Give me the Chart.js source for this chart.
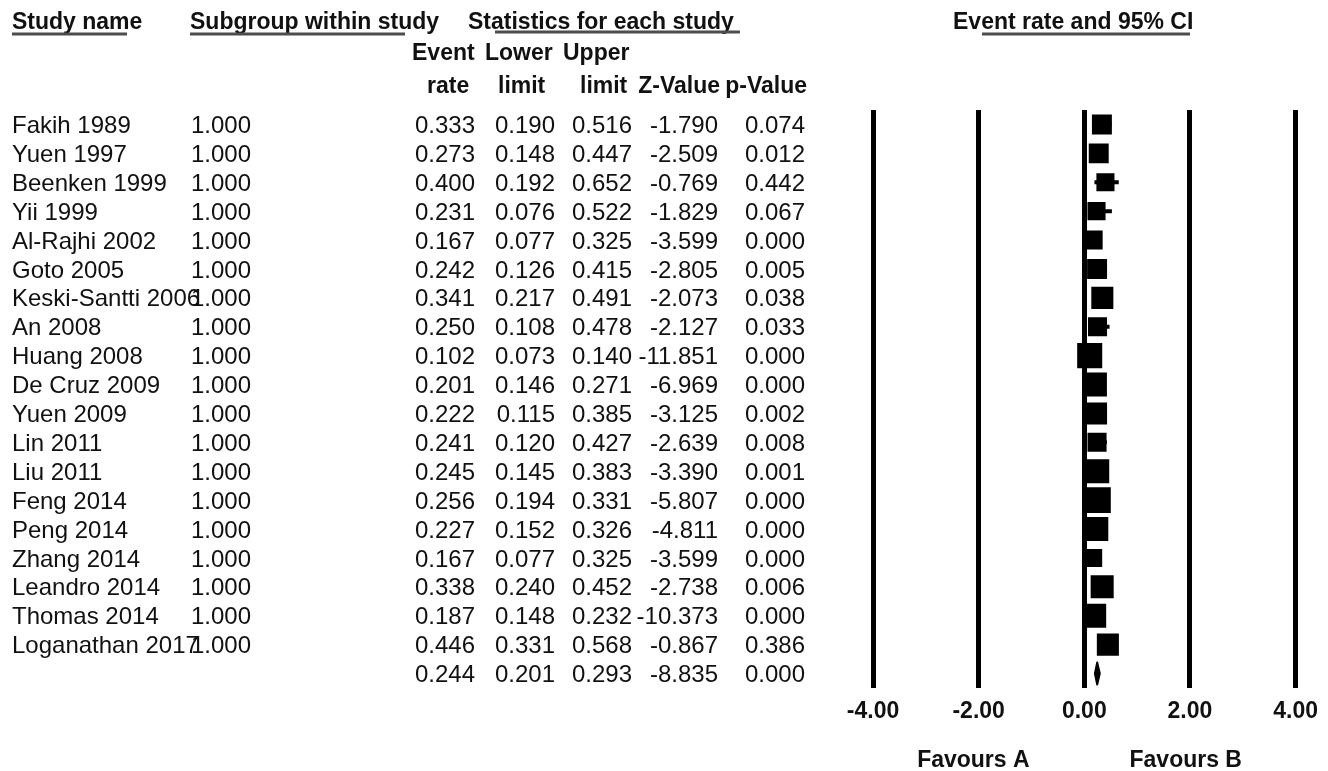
<!DOCTYPE html>
<html lang="en">
<head>
<meta charset="UTF-8">
<title>Event rate and 95% CI</title>
<script src="https://cdn.jsdelivr.net/npm/chart.js@4.4.1/dist/chart.umd.min.js"></script>
<style>
  html, body { margin: 0; padding: 0; background: #fff; }
  #wrap { width: 1328px; height: 771px; position: relative; }
</style>
</head>
<body>
<div id="wrap"><canvas id="chart"></canvas></div>
<script>
// study data
const studies = ['Fakih 1989', 'Yuen 1997', 'Beenken 1999', 'Yii 1999', 'Al-Rajhi 2002', 'Goto 2005',
  'Keski-Santti 2006', 'An 2008', 'Huang 2008', 'De Cruz 2009', 'Yuen 2009', 'Lin 2011', 'Liu 2011',
  'Feng 2014', 'Peng 2014', 'Zhang 2014', 'Leandro 2014', 'Thomas 2014', 'Loganathan 2017'];
const subgroups = ['1.000', '1.000', '1.000', '1.000', '1.000', '1.000', '1.000', '1.000', '1.000', '1.000',
  '1.000', '1.000', '1.000', '1.000', '1.000', '1.000', '1.000', '1.000', '1.000'];
const eventRate = [0.333, 0.273, 0.400, 0.231, 0.167, 0.242, 0.341, 0.250, 0.102, 0.201,
  0.222, 0.241, 0.245, 0.256, 0.227, 0.167, 0.338, 0.187, 0.446];
const lowerLimit = [0.190, 0.148, 0.192, 0.076, 0.077, 0.126, 0.217, 0.108, 0.073, 0.146,
  0.115, 0.120, 0.145, 0.194, 0.152, 0.077, 0.240, 0.148, 0.331];
const upperLimit = [0.516, 0.447, 0.652, 0.522, 0.325, 0.415, 0.491, 0.478, 0.140, 0.271,
  0.385, 0.427, 0.383, 0.331, 0.326, 0.325, 0.452, 0.232, 0.568];
const zValue = [-1.790, -2.509, -0.769, -1.829, -3.599, -2.805, -2.073, -2.127, -11.851, -6.969,
  -3.125, -2.639, -3.390, -5.807, -4.811, -3.599, -2.738, -10.373, -0.867];
const pValue = [0.074, 0.012, 0.442, 0.067, 0.000, 0.005, 0.038, 0.033, 0.000, 0.000,
  0.002, 0.008, 0.001, 0.000, 0.000, 0.000, 0.006, 0.000, 0.386];
// relative weights (%)
const weights = [4.5, 4.5, 3.7, 3.7, 4.1, 4.5, 5.5, 4.1, 7.1, 6.5,
  5.5, 4.1, 6.5, 7.6, 6.5, 3.7, 6.0, 6.5, 5.5];
// pooled estimate
const summary = { rate: 0.244, lower: 0.201, upper: 0.293, z: -8.835, p: 0.000 };
const xTicks = [-4, -2, 0, 2, 4];

const FONT = '"Liberation Sans", Arial, Helvetica, sans-serif';
const summaryRow = studies.length;

// boxes and whiskers
const boxes = eventRate.map((v, i) => ({ x: v, y: i }));
const whiskers = [];
for (let i = 0; i < studies.length; i++) {
  whiskers.push({ x: lowerLimit[i], y: i }, { x: upperLimit[i], y: i }, { x: null, y: null });
}

const tablePlugin = {
  id: 'forestTable',
  afterDatasetsDraw(chart) {
    const ctx = chart.ctx, xs = chart.scales.x, ys = chart.scales.y;
    // summary diamond
    const cy = ys.getPixelForValue(summaryRow);
    ctx.save();
    ctx.fillStyle = '#000';
    ctx.strokeStyle = '#000';
    ctx.lineWidth = 2;
    ctx.lineJoin = 'round';
    ctx.beginPath();
    ctx.moveTo(xs.getPixelForValue(summary.lower), cy);
    ctx.lineTo(xs.getPixelForValue(summary.rate), cy - 11);
    ctx.lineTo(xs.getPixelForValue(summary.upper), cy);
    ctx.lineTo(xs.getPixelForValue(summary.rate), cy + 11);
    ctx.closePath();
    ctx.fill();
    ctx.stroke();
    ctx.restore();
  },
  afterDraw(chart) {
    const ctx = chart.ctx, xs = chart.scales.x, ys = chart.scales.y;
    ctx.save();
    ctx.fillStyle = '#111';
    ctx.textBaseline = 'middle';

    // column headers
    ctx.font = 'bold 23px ' + FONT;
    ctx.textAlign = 'left';
    ctx.fillText('Study name', 12, 23);
    ctx.fillText('Subgroup within study', 190, 23);
    ctx.fillText('Statistics for each study', 468, 23);
    ctx.fillText('Event rate and 95% CI', 953, 23);
    ctx.fillText('Event', 412, 54);
    ctx.fillText('Lower', 485, 54);
    ctx.fillText('Upper', 563, 54);
    ctx.fillText('rate', 427, 87);
    ctx.fillText('limit', 498, 87);
    ctx.fillText('limit', 580, 87);
    ctx.textAlign = 'right';
    ctx.fillText('Z-Value', 720, 87);
    ctx.fillText('p-Value', 807, 87);

    // header underlines
    ctx.strokeStyle = '#4d4d4d';
    ctx.lineWidth = 3;
    [[12, 127, 34], [190, 405, 34], [495, 740, 32], [982, 1190, 34]].forEach(u => {
      ctx.beginPath();
      ctx.moveTo(u[0], u[2]);
      ctx.lineTo(u[1], u[2]);
      ctx.stroke();
    });

    // table rows
    ctx.font = '24px ' + FONT;
    const cols = [475, 555, 632, 718, 805];
    const row = (vals, y) => {
      ctx.textAlign = 'right';
      vals.forEach((v, k) => ctx.fillText(v.toFixed(3), cols[k], y));
    };
    for (let i = 0; i < studies.length; i++) {
      const y = ys.getPixelForValue(i) + 2;
      ctx.textAlign = 'left';
      ctx.fillText(studies[i], 12, y);
      ctx.textAlign = 'right';
      ctx.fillText(subgroups[i], 251, y);
      row([eventRate[i], lowerLimit[i], upperLimit[i], zValue[i], pValue[i]], y);
    }
    row([summary.rate, summary.lower, summary.upper, summary.z, summary.p], ys.getPixelForValue(summaryRow) + 2);

    // favours labels
    ctx.font = 'bold 23px ' + FONT;
    ctx.textAlign = 'center';
    ctx.fillText('Favours A', xs.getPixelForValue(-2.1), 761);
    ctx.fillText('Favours B', xs.getPixelForValue(1.92), 761);
    ctx.restore();
  }
};

const ctx = document.getElementById('chart').getContext('2d');
const chart = new Chart(ctx, {
  type: 'scatter',
  data: {
    datasets: [{
      label: 'CI',
      data: whiskers,
      showLine: true,
      spanGaps: false,
      borderColor: '#000',
      borderWidth: 4,
      pointRadius: 0
    }, {
      label: 'Event rate',
      data: boxes,
      pointStyle: 'rect',
      pointRadius: weights.map(w => Math.sqrt(w) * 6.65),
      backgroundColor: '#000',
      borderWidth: 0
    }]
  },
  options: {
    responsive: true,
    maintainAspectRatio: false,
    animation: false,
    events: [],
    layout: { padding: { left: 873, right: 30, top: 110, bottom: 47 } },
    plugins: { legend: { display: false }, tooltip: { enabled: false } },
    scales: {
      x: {
        type: 'linear',
        min: -4,
        max: 4,
        afterBuildTicks: s => { s.ticks = xTicks.map(v => ({ value: v })); },
        afterFit: s => { s.height = 36; },
        grid: { color: '#000', lineWidth: 5, drawTicks: false },
        border: { display: false },
        ticks: {
          padding: 10,
          color: '#111',
          font: { family: FONT, size: 23, weight: 'bold' },
          callback: v => v.toFixed(2)
        }
      },
      y: {
        type: 'linear',
        min: -0.5,
        max: summaryRow + 0.5,
        reverse: true,
        display: false
      }
    }
  },
  plugins: [tablePlugin]
});
</script>
</body>
</html>
